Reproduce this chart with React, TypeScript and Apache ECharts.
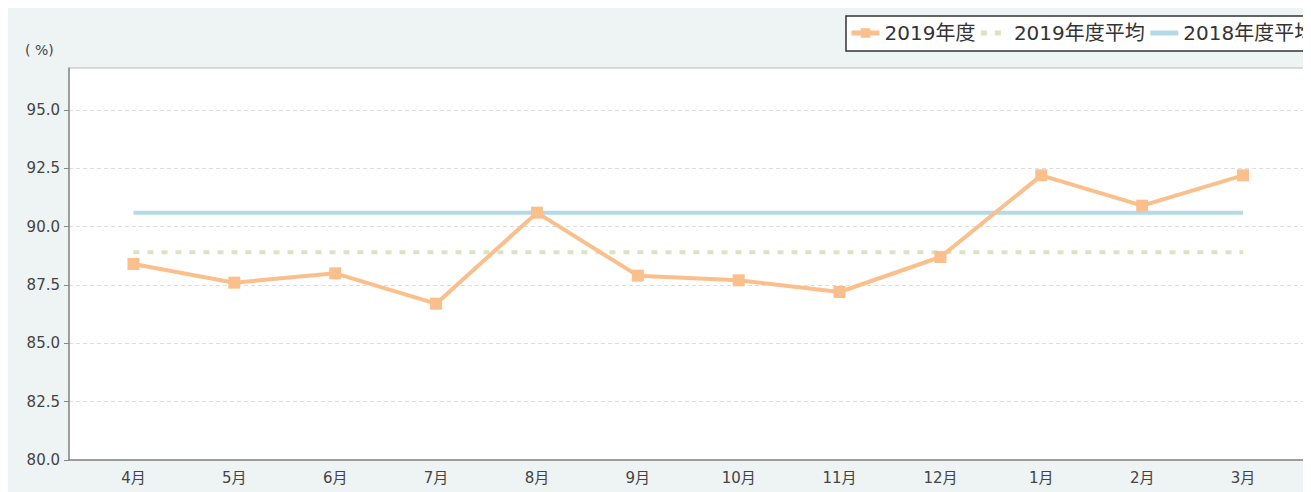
import React, { useEffect, useRef } from "react";
import * as echarts from "echarts";

const months = ["4月", "5月", "6月", "7月", "8月", "9月", "10月", "11月", "12月", "1月", "2月", "3月"];
const rate2019 = [88.4, 87.6, 88.0, 86.7, 90.6, 87.9, 87.7, 87.2, 88.7, 92.2, 90.9, 92.2];
const avg2019 = [88.9, 88.9, 88.9, 88.9, 88.9, 88.9, 88.9, 88.9, 88.9, 88.9, 88.9, 88.9];
const avg2018 = [90.6, 90.6, 90.6, 90.6, 90.6, 90.6, 90.6, 90.6, 90.6, 90.6, 90.6, 90.6];
const seriesNames = ["2019年度", "2019年度平均", "2018年度平均"];
const yMin = 80;
const yMax = 96.8;
const yStep = 2.5;

const FONT = "'DejaVu Sans', 'Noto Sans CJK JP', sans-serif";

export default function App() {
  const ref = useRef<HTMLDivElement>(null);
  useEffect(() => {
    document.body.style.overflow = "hidden";
    const chart = echarts.init(ref.current!, null, { renderer: "svg" });
    chart.setOption({
      animation: false,
      backgroundColor: "#eef3f3",
      textStyle: { fontFamily: FONT },
      graphic: [
        {
          type: "text",
          left: 17,
          top: 35,
          style: { text: "( %)", fontSize: 14, fill: "#444", fontFamily: FONT },
        },
      ],
      legend: {
        left: 838,
        top: 8,
        padding: [7, 4, 8, 3],
        backgroundColor: "#fff",
        borderColor: "#333",
        borderWidth: 1.5,
        borderRadius: 0,
        itemWidth: 28,
        itemHeight: 12,
        itemGap: 3,
        textStyle: { fontSize: 20, color: "#333", fontFamily: FONT },
        lineStyle: { width: 5 },
        data: [
          { name: seriesNames[0] },
          { name: seriesNames[1], itemStyle: { color: "rgba(0,0,0,0)", borderWidth: 0 } },
          { name: seriesNames[2], itemStyle: { color: "rgba(0,0,0,0)", borderWidth: 0 } },
        ],
      },
      grid: [
        {
          left: 61,
          top: 60,
          right: 40,
          bottom: 32,
          show: true,
          backgroundColor: "#fff",
          borderColor: "#bbb",
          borderWidth: 1,
        },
        { left: 75, top: 60, right: 54.5, bottom: 32 },
      ],
      xAxis: [
        {
          gridIndex: 0,
          type: "value",
          min: 0,
          max: 1,
          axisLine: { show: true, onZero: false, lineStyle: { color: "#888", width: 1.5 } },
          axisTick: { show: false },
          axisLabel: { show: false },
          splitLine: { show: false },
        },
        {
          gridIndex: 1,
          type: "category",
          data: months,
          boundaryGap: true,
          axisLine: { show: false },
          axisTick: { show: false },
          axisLabel: { fontSize: 15, color: "#444", margin: 10, fontFamily: FONT },
        },
      ],
      yAxis: [
        {
          gridIndex: 0,
          type: "value",
          min: yMin,
          max: yMax,
          interval: yStep,
          axisLine: { show: true, lineStyle: { color: "#888", width: 1.5 } },
          axisTick: { show: true, length: 5, lineStyle: { color: "#888" } },
          axisLabel: {
            fontSize: 15,
            color: "#444",
            margin: 9,
            showMaxLabel: false,
            fontFamily: FONT,
            formatter: (v: number) => v.toFixed(1),
          },
          splitLine: { show: true, lineStyle: { color: "#ddd", type: [4, 3] } },
        },
        {
          gridIndex: 1,
          type: "value",
          min: yMin,
          max: yMax,
          show: false,
          splitLine: { show: false },
        },
      ],
      series: [
        {
          name: seriesNames[2],
          type: "line",
          xAxisIndex: 1,
          yAxisIndex: 1,
          data: avg2018,
          symbol: "none",
          color: "#b3dbe7",
          lineStyle: { width: 4, color: "#b3dbe7" },
          z: 2,
        },
        {
          name: seriesNames[1],
          type: "line",
          xAxisIndex: 1,
          yAxisIndex: 1,
          data: avg2019,
          symbol: "none",
          color: "#d8e6bf",
          lineStyle: { width: 4, color: "#d8e6bf", type: [6, 8] },
          z: 2,
        },
        {
          name: seriesNames[0],
          type: "line",
          xAxisIndex: 1,
          yAxisIndex: 1,
          data: rate2019,
          symbol: "rect",
          symbolSize: 12,
          color: "#fbbf8c",
          itemStyle: { color: "#fbbf8c" },
          lineStyle: { width: 4, color: "#fbbf8c" },
          z: 3,
        },
      ],
    });
    return () => chart.dispose();
  }, []);
  return (
    <div style={{ width: 1303, height: 484, overflow: "hidden" }}>
      <div ref={ref} style={{ width: 1340, height: 484 }} />
    </div>
  );
}
